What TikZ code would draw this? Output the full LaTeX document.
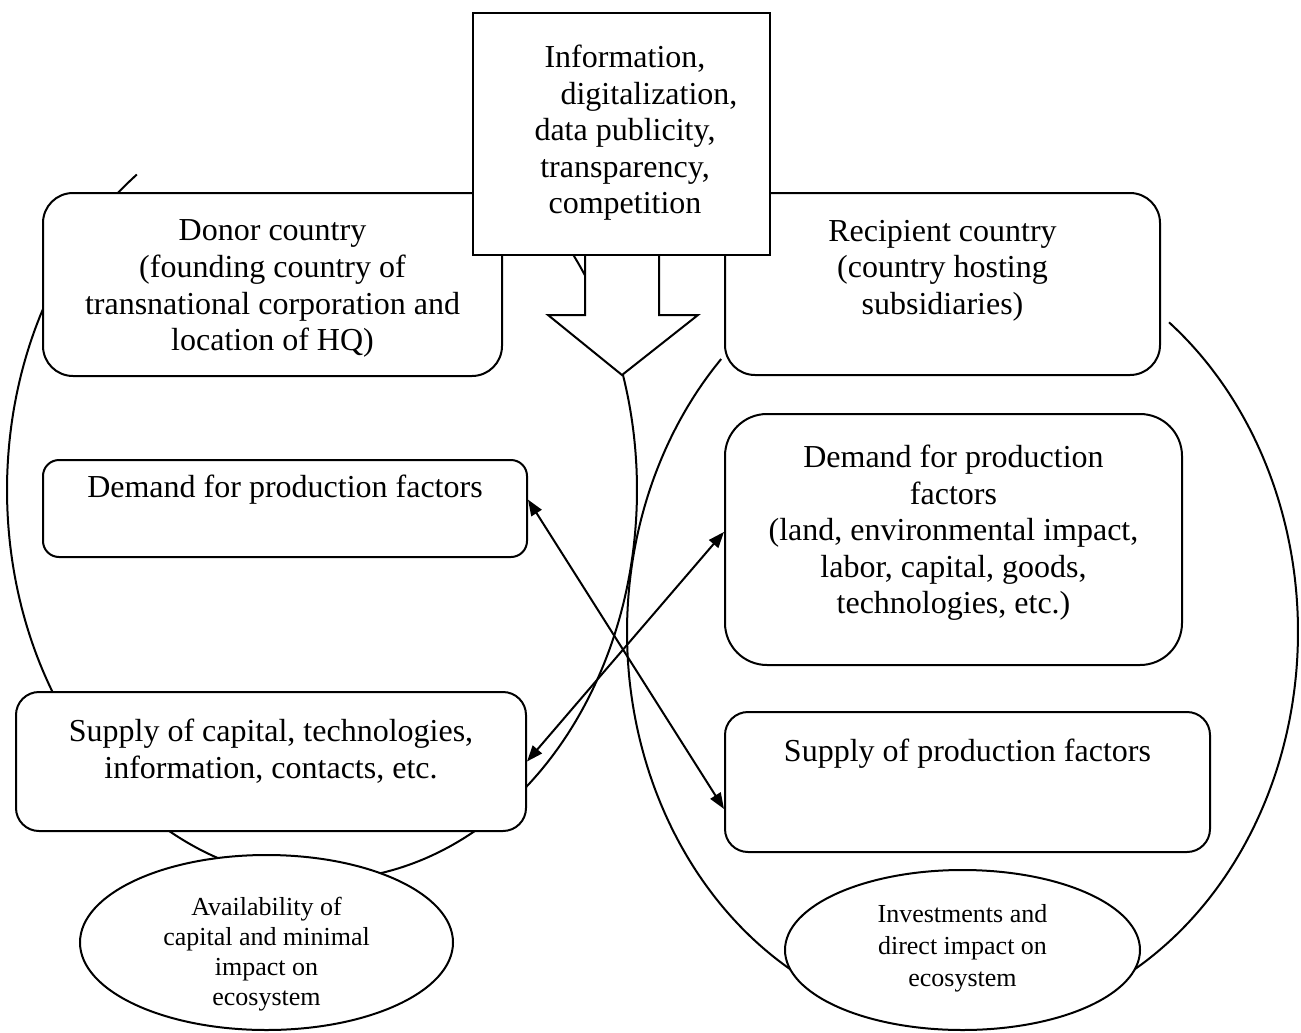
\documentclass[tikz,border=0pt]{standalone}
\usepackage{fontspec}
\setmainfont{Liberation Serif}
\usetikzlibrary{arrows.meta,positioning,calc,shapes.geometric}

\begin{document}
\begin{tikzpicture}[x=0.5pt,y=-0.5pt,line width=1pt,
    rbox/.style={draw, fill=white},
    txt/.style={align=center, inner sep=0pt, font=\fontsize{16}{18.3}\selectfont},
    stxt/.style={align=center, inner sep=0pt, font=\fontsize{13}{15}\selectfont},
    oval/.style={draw, fill=white, ellipse, inner sep=0pt},
    conn/.style={{Triangle[length=8pt,width=6pt]}-{Triangle[length=8pt,width=6pt]}}]
    \useasboundingbox (0,0) rectangle (1301,1033);

    % the two economies
    \draw plot[smooth, domain=126:420, samples=120] ({322+315*cos(\x)},{490-390*sin(\x)});
    \draw plot[smooth, domain=136:412, samples=120] ({962.5+335.5*cos(\x)},{632-393*sin(\x)});

    % countries
    \node[rbox, rounded corners=15pt, minimum width=229.5pt, minimum height=91.5pt] (donor) at (272.5,284.5) {};
    \node[txt, below=13.5pt of donor.north] (donor-t) {Donor country\\ (founding country of\\ transnational corporation and\\ location of HQ)};
    \node[rbox, rounded corners=15pt, minimum width=217.5pt, minimum height=91pt] (recip) at (942.5,284) {};
    \node[txt, below=13.5pt of recip.north] (recip-t) {Recipient country\\ (country hosting\\ subsidiaries)};

    % information flow
    \draw[fill=white] (585,240) -- (585,315) -- (548,315) -- (622,375) -- (698,315) -- (659,315) -- (659,240) -- cycle;
    \node[rbox, minimum width=148.5pt, minimum height=121pt] (info) at (621.5,134) {};
    \node[txt, below=16pt of info.north, xshift=1.75pt] (info-t) {Information,\\ \hspace*{24pt}digitalization,\\ data publicity,\\ transparency,\\ competition};

    % factors
    \node[rbox, rounded corners=8pt, minimum width=242pt, minimum height=48.5pt] (dl) at (285,508.5) {};
    \node[txt, below=7.5pt of dl.north] (dl-t) {Demand for production factors};
    \node[rbox, rounded corners=21pt, minimum width=228.5pt, minimum height=125.5pt] (dr) at (953.5,539.5) {};
    \node[txt, below=15.5pt of dr.north] (dr-t) {Demand for production\\ factors\\ (land, environmental impact,\\ labor, capital, goods,\\ technologies, etc.)};
    \node[rbox, rounded corners=11.5pt, minimum width=255pt, minimum height=69.5pt] (sl) at (271,761.5) {};
    \node[txt, below=13.5pt of sl.north] (sl-t) {Supply of capital, technologies,\\ information, contacts, etc.};
    \node[rbox, rounded corners=11.5pt, minimum width=242.5pt, minimum height=70pt] (sr) at (967.5,782) {};
    \node[txt, below=13.5pt of sr.north] (sr-t) {Supply of production factors};

    % outcomes
    \node[oval, minimum width=186.5pt, minimum height=87.5pt] (avail) at (266.5,942.5) {};
    \node[stxt, below=21pt of avail.north] (avail-t) {Availability of\\ capital and minimal\\ impact on\\ ecosystem};
    \node[oval, minimum width=177.5pt, minimum height=80pt] (invest) at (962.5,950) {};
    \node[stxt, font=\fontsize{13}{16.2}\selectfont, below=17pt of invest.north] (invest-t) {Investments and\\ direct impact on\\ ecosystem};

    \draw[conn] ($(dl.north east)!0.41!(dl.south east)$) -- ($(sr.north west)!0.69!(sr.south west)$);
    \draw[conn] (sl.east) -- ($(dr.north west)!0.47!(dr.south west)$);
\end{tikzpicture}
\end{document}
